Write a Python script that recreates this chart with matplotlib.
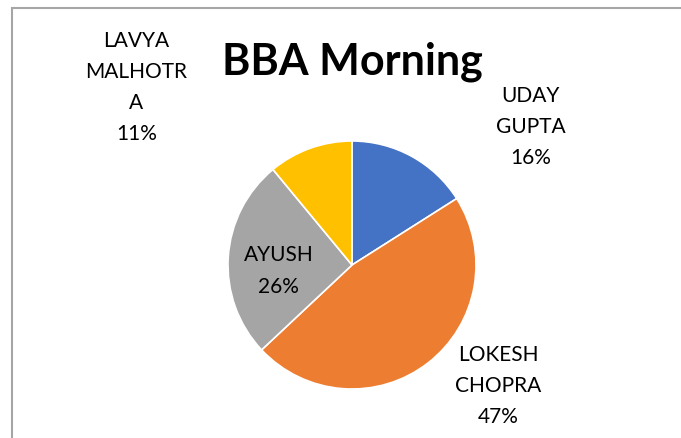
import matplotlib.pyplot as plt
from matplotlib.patches import Rectangle

# slice data, clockwise from 12 o'clock
names = ["UDAY\nGUPTA", "LOKESH\nCHOPRA", "AYUSH", "LAVYA\nMALHOTR\nA"]
shares = [16, 47, 26, 11]
colors = ["#4472C4", "#ED7D31", "#A5A5A5", "#FFC000"]

W, H = 681, 439
fig = plt.figure(figsize=(W / 100, H / 100), dpi=100)
plt.rcParams['font.family'] = ['Lato', 'DejaVu Sans']

# chart frame (only top and left edges are visible in the crop)
fig.patches.append(Rectangle((11.5 / W, -0.1), 1.2, (H - 8.5) / H + 0.1, transform=fig.transFigure,
                             fill=False, edgecolor="#A6A6A6", linewidth=1.5))

# pie centre (352, 266) px, radius 124 px
cx, cy, r = 352, H - 266, 124
ax = fig.add_axes([(cx - r) / W, (cy - r) / H, 2 * r / W, 2 * r / H])
ax.pie(shares, colors=colors, startangle=90, counterclock=False, radius=1,
       wedgeprops=dict(edgecolor="white", linewidth=1.2))
ax.set_xlim(-1, 1)
ax.set_ylim(-1, 1)
ax.set_aspect("equal")
ax.axis("off")

# label positions in pie units (Excel's best-fit placement)
label_pos = [(1.44, 1.12), (1.18, -0.97), (-0.59, -0.04), (-1.74, 1.44)]
for name, s, (x, y) in zip(names, shares, label_pos):
    ax.text(x, y, f"{name}\n{s}%", ha="center", va="center", fontsize=15,
            linespacing=1.7, color="#000000", clip_on=False)

fig.text(352 / W, 1 - 62 / H, "BBA Morning", ha="center", va="center",
         fontsize=31, fontweight="bold")

fig.savefig("out.png", dpi=100)
